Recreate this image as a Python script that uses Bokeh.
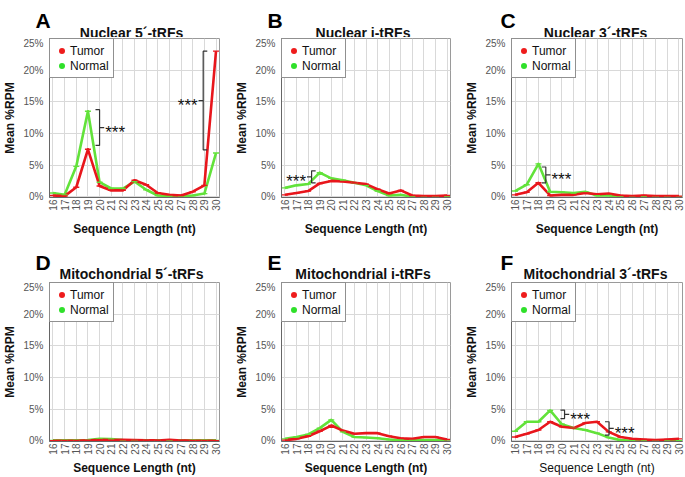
from math import pi
from bokeh.plotting import figure
from bokeh.layouts import row, column
from bokeh.models import (Range1d, Legend, LegendItem, FixedTicker, PrintfTickFormatter)
from bokeh.core.properties import value
from bokeh.embed import file_html
from bokeh.resources import INLINE

# ---------------- data ----------------
lengths = list(range(16, 31))
y_ticks = [0, 5, 10, 15, 20, 25]

panel_letters = ["A", "B", "C", "D", "E", "F"]
panel_titles = ["Nuclear 5´-tRFs", "Nuclear i-tRFs", "Nuclear 3´-tRFs",
                "Mitochondrial 5´-tRFs", "Mitochondrial i-tRFs", "Mitochondrial 3´-tRFs"]
series_names = ["Tumor", "Normal"]

nuc5_tumor = [0.2, 0.1, 1.5, 7.5, 1.7, 1.0, 1.0, 2.6, 1.9, 0.6, 0.3, 0.2, 0.8, 1.8, 23.0]
nuc5_normal = [0.6, 0.3, 4.8, 13.5, 2.3, 1.3, 1.3, 2.4, 1.1, 0.2, 0.1, 0.1, 0.2, 0.5, 6.9]

nuci_tumor = [0.3, 0.6, 0.9, 2.1, 2.5, 2.4, 2.2, 2.0, 1.2, 0.5, 1.0, 0.2, 0.1, 0.1, 0.2]
nuci_normal = [1.4, 1.8, 2.0, 3.8, 2.9, 2.6, 2.2, 1.8, 0.9, 0.2, 0.3, 0.0, 0.0, 0.0, 0.0]

nuc3_tumor = [0.3, 0.7, 2.2, 0.2, 0.3, 0.3, 0.6, 0.4, 0.5, 0.2, 0.1, 0.2, 0.1, 0.1, 0.1]
nuc3_normal = [0.9, 1.9, 5.2, 0.8, 0.7, 0.6, 0.8, 0.2, 0.2, 0.0, 0.0, 0.0, 0.0, 0.0, 0.0]

mit5_tumor = [0.0, 0.0, 0.0, 0.05, 0.15, 0.1, 0.15, 0.1, 0.05, 0.05, 0.15, 0.05, 0.0, 0.0, 0.0]
mit5_normal = [0.05, 0.05, 0.05, 0.1, 0.3, 0.25, 0.1, 0.05, 0.05, 0.05, 0.05, 0.05, 0.05, 0.05, 0.05]

miti_tumor = [0.1, 0.3, 0.7, 1.5, 2.4, 1.6, 1.1, 1.2, 1.2, 0.7, 0.4, 0.3, 0.6, 0.6, 0.2]
miti_normal = [0.3, 0.6, 1.0, 2.0, 3.3, 1.4, 0.6, 0.5, 0.4, 0.2, 0.1, 0.1, 0.1, 0.1, 0.1]

mit3_tumor = [0.6, 1.1, 1.7, 3.0, 2.2, 2.0, 2.8, 3.0, 1.4, 0.6, 0.3, 0.2, 0.1, 0.2, 0.3]
mit3_normal = [1.5, 3.0, 3.0, 4.8, 2.6, 2.0, 1.7, 1.2, 0.5, 0.1, 0.0, 0.0, 0.0, 0.0, 0.0]

# significance brackets: (x, y_low, y_high, direction of end ticks)
brackets_A = [(20.0, 8.1, 13.75, -1), (28.9, 7.4, 23.0, 1)]
brackets_B = [(18.3, 2.2, 4.1, 1)]
brackets_C = [(18.63, 2.2, 4.7, -1)]
brackets_D = []
brackets_E = []
brackets_F = [(20.23, 3.5, 4.85, -1), (24.03, 0.9, 3.0, -1)]
sig_label = "***"

# ---------------- style ----------------
FONT = "Liberation Sans"
FONT_V = value(FONT)
RED = "#e8161c"
GREEN = "#62e23a"
RED_DOT = "#ee1c1c"
GREEN_DOT = "#2fe02a"
GRID = "#d9d9d9"
TICK_COL = "#555555"

X0, X1 = 15.7, 30.3
Y0, Y1 = -0.12, 25

col_widths = [232, 230, 223]
col_lefts = [43, 43, 46]
col_rights = [13, 12, 3]
header_heights = [37, 43]
plot_heights = [201, 196]
plot_bottoms = [41, 36]
xlabel_standoffs = [8, 3]
letter_base = [17, 19]     # letter baseline above header bottom
title_base = [5, 8]        # title baseline above header bottom


def make_header(idx):
    col, rw = idx % 3, idx // 3
    w, h = col_widths[col], header_heights[rw]
    p = figure(width=w, height=h, x_range=Range1d(0, w), y_range=Range1d(0, h),
               output_backend="svg", toolbar_location=None, title=None,
               x_axis_location=None, y_axis_location=None,
               min_border=0, min_border_left=0, min_border_right=0,
               min_border_top=0, min_border_bottom=0)
    p.outline_line_color = None
    p.grid.visible = False
    p.background_fill_color = "white"
    p.border_fill_color = "white"
    frame_w = w - col_lefts[col] - col_rights[col]
    p.text(x=[col_lefts[col] - 8], y=[letter_base[rw]], text=[panel_letters[idx]],
           text_font=FONT_V, text_font_size="21px", text_font_style="bold",
           text_align="left", text_baseline="alphabetic", text_color="#000000")
    p.text(x=[col_lefts[col] + frame_w / 2], y=[title_base[rw]], text=[panel_titles[idx]],
           text_font=FONT_V, text_font_size="14px", text_font_style="bold",
           text_align="center", text_baseline="alphabetic", text_color="#111111")
    return p


def make_panel(idx, tumor, normal, brackets):
    col, rw = idx % 3, idx // 3
    p = figure(width=col_widths[col], height=plot_heights[rw],
               x_range=Range1d(X0, X1), y_range=Range1d(Y0, Y1),
               output_backend="svg", toolbar_location=None, title=None,
               min_border_left=col_lefts[col], min_border_right=col_rights[col],
               min_border_top=1, min_border_bottom=plot_bottoms[rw])
    p.background_fill_color = "white"
    p.border_fill_color = "white"
    p.outline_line_color = "#9a9a9a"
    p.outline_line_width = 1

    p.xaxis.ticker = FixedTicker(ticks=lengths)
    p.xaxis.major_label_orientation = pi / 2
    p.yaxis.ticker = FixedTicker(ticks=y_ticks)
    p.yaxis.formatter = PrintfTickFormatter(format="%d%%")
    for ax in (p.xaxis[0], p.yaxis[0]):
        ax.major_tick_out = 0
        ax.major_tick_in = 0
        ax.minor_tick_out = 0
        ax.minor_tick_in = 0
        ax.axis_line_color = "#666666"
        ax.major_label_text_font = FONT
        ax.major_label_text_font_size = "10px"
        ax.major_label_text_color = TICK_COL
        ax.axis_label_text_font = FONT
        ax.axis_label_text_font_size = "12px"
        ax.axis_label_text_color = "#111111"
    p.xaxis.major_label_standoff = 2
    p.xaxis.axis_label_standoff = xlabel_standoffs[rw]
    p.yaxis.major_label_standoff = 6
    p.yaxis.axis_label_standoff = 3
    p.xaxis.axis_label = "Sequence Length (nt)"
    p.yaxis.axis_label = "Mean %RPM"
    p.yaxis.axis_label_text_font_style = "bold"
    p.xaxis.axis_label_text_font_style = "normal" if idx == 5 else "bold"

    p.xgrid.ticker = FixedTicker(ticks=lengths)
    p.ygrid.ticker = FixedTicker(ticks=y_ticks)
    p.xgrid.grid_line_color = GRID
    p.ygrid.grid_line_color = GRID

    # series
    p.line(lengths, normal, line_color=GREEN, line_width=2.6, line_join="round")
    p.line(lengths, tumor, line_color=RED, line_width=2.6, line_join="round")
    p.scatter(lengths, normal, marker="dash", size=6, line_color=GREEN, line_width=1.4)
    p.scatter(lengths, tumor, marker="dash", size=6, line_color=RED, line_width=1.4)

    # legend (dot glyphs; zero-size markers so only the legend shows them)
    r_t = p.scatter(lengths, tumor, marker="circle", size=0, fill_color=RED_DOT,
                    line_color=RED_DOT, line_alpha=0)
    r_n = p.scatter(lengths, normal, marker="circle", size=0, fill_color=GREEN_DOT,
                    line_color=GREEN_DOT, line_alpha=0)
    legend = Legend(items=[LegendItem(label=series_names[0], renderers=[r_t]),
                           LegendItem(label=series_names[1], renderers=[r_n])],
                    location="top_left", margin=0, padding=4, spacing=0,
                    label_height=14, glyph_height=15, glyph_width=15, label_standoff=1,
                    border_line_color="#222222", border_line_width=1,
                    background_fill_color="white", background_fill_alpha=1,
                    label_text_font=FONT, label_text_font_size="12px",
                    label_text_color="#111111")
    p.add_layout(legend)

    # brackets
    end_len, tick_len, gap = 0.35, 0.4, 0.08
    for (bx, lo, hi, d) in brackets:
        mid = (lo + hi) / 2
        p.multi_line(xs=[[bx + d * end_len, bx, bx, bx + d * end_len], [bx, bx - d * tick_len]],
                     ys=[[hi, hi, lo, lo], [mid, mid]], line_color="#333333", line_width=1.2)
        p.text(x=[bx - d * (tick_len + gap)], y=[mid], text=[sig_label],
               text_align="left" if d < 0 else "right", text_baseline="middle",
               y_offset=5, text_font=FONT_V, text_font_size="17px", text_color="#111111")
    return p


data = [(nuc5_tumor, nuc5_normal, brackets_A), (nuci_tumor, nuci_normal, brackets_B),
        (nuc3_tumor, nuc3_normal, brackets_C), (mit5_tumor, mit5_normal, brackets_D),
        (miti_tumor, miti_normal, brackets_E), (mit3_tumor, mit3_normal, brackets_F)]

headers = [make_header(i) for i in range(6)]
panels = [make_panel(i, t, n, b) for i, (t, n, b) in enumerate(data)]

layout = column(row(*headers[:3], spacing=0), row(*panels[:3], spacing=0),
                row(*headers[3:], spacing=0), row(*panels[3:], spacing=0), spacing=0)

open("out.html", "w").write(file_html(layout, INLINE))
